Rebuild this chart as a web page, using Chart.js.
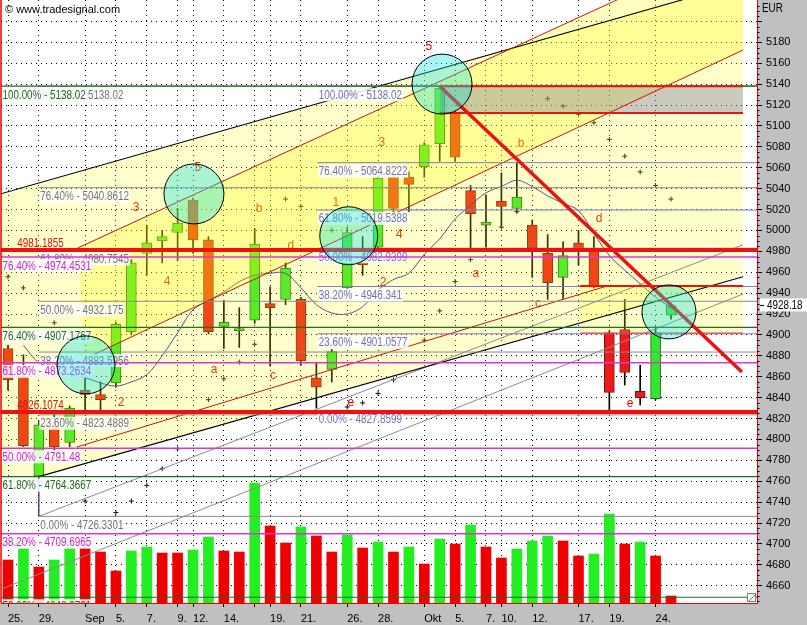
<!DOCTYPE html>
<html><head><meta charset="utf-8"><title>DAX</title>
<script src="https://cdn.jsdelivr.net/npm/chart.js@4.4.1/dist/chart.umd.min.js"></script>
<style>html,body{margin:0;padding:0;background:#fff;overflow:hidden}canvas{display:block}</style>
</head><body>
<canvas id="c" width="807" height="625" style="width:807px;height:625px"></canvas>
<script>
// ---------------- data ----------------
const dates = ['25.08.','26.08.','29.08.','30.08.','31.08.','01.09.','02.09.','05.09.','06.09.','07.09.','08.09.','09.09.','12.09.','13.09.','14.09.','15.09.','16.09.','19.09.','20.09.','21.09.','22.09.','23.09.','26.09.','27.09.','28.09.','29.09.','30.09.','03.10.','04.10.','05.10.','06.10.','07.10.','10.10.','11.10.','12.10.','13.10.','14.10.','17.10.','18.10.','19.10.','20.10.','21.10.','24.10.','25.10.'];
const tickIdx  = [0,2,5,7,9,11,12,14,16,17,19,22,24,27,29,31,32,34,37,39,42];
const tickText = ['25.','29.','Sep','5.','7.','9.','12.','14.','','19.','21.','26.','28.','Okt','5.','7.','10.','12.','17.','19.','24.'];
const yTicks = [4660,4680,4700,4720,4740,4760,4780,4800,4820,4840,4860,4880,4900,4920,4940,4960,4980,5000,5020,5040,5060,5080,5100,5120,5140,5160,5180,5200];

const open  = [4887,4860,4765,4812,4797,4847,4843,4854,4903,4978,4990,4998,5029,4991,4908,4904,4914,4930,4934,4934,4859,4867,4945,4970,4984,5051,5051,5061,5083,5112,5038,5005,5028,5021,5005,4978,4955,4988,4982,4902,4905,4846,4839,4919];
const high  = [4890,4881,4818,4826,4832,4860,4855,4912,4972,5005,5000,5021,5031,4994,4933,4926,5002,4946,4969,4936,4873,4886,5003,4994,5052,5053,5056,5084,5138.02,5114,5043,5034,5055,5065,5010,4996,4989,5000,4994,4904,4934,4871,4908,4930];
const low   = [4847,4793,4764.37,4790,4793,4826,4826,4850,4900,4957,4969,4971,4978,4901,4887,4888,4911,4870,4929,4871,4830,4855,4940,4957,4982,5012,5018,5051,5066,5066,4983,4984,5003,5017,4955,4934,4935,4967,4945,4827.86,4852,4833,4838,4915];
const close = [4857,4794,4814,4793,4830,4843,4838,4910,4969,4988,4994,5007,4991,4903,4912,4906,4987,4926,4964,4875,4850,4884,4998,4967,5050,5021,5044,5082,5136,5070,5016,5008,5023,5032,4983,4950,4976,4980,4946,4845,4864,4840,4902,4928.18];
const volume = [43,55,36,43,55,55,51,32,52,56,50,50,53,66,52,51,120,77,60,76,67,51,68,55,61,51,56,39,64,59,78,56,45,54,62,67,62,47,49,89,59,61,47,7];
const volDir = [-1,1,-1,1,1,-1,-1,-1,1,1,-1,-1,1,1,-1,-1,1,-1,-1,1,-1,-1,1,-1,1,-1,1,-1,1,-1,1,-1,-1,1,1,1,-1,-1,1,1,-1,1,-1,-1];
const ma  = [null,4890,4873,4866,4862,4859,4854,4851,4855,4862,4880,4902,4924,4933,4941,4951,4957,4959,4959,4945,4929,4921,4920,4927,4943,4953,4959,4977,4992,5011,5024,5036,5042,5048,5042,5033,5026,5019,4997,4976,4962,4949,4936,4926];
const sar = [4955.6,4945,null,4911.6,null,4741,null,4730,4741,4756,4772,4791,null,4838,4858,4874,4891,null,5030,5023,null,5000,4831,4835,4844,4857,null,4895,4923,4951,4972,null,5003,5018,null,5126,5119,5111,5103,5087,5071,5056,5043,5030];
const lastPrice = 4928.18;

// Fibonacci sets (value, percent)
const fibGray = [4726.3301,4823.4889,4883.5956,4932.175,4980.7545,5040.8612,5138.02];
const fibGrayPct = [0,23.6,38.2,50,61.8,76.4,100];
const fibBlue = [4827.8599,4901.0577,4946.341,4982.9399,5019.5388,5064.8222,5138.02];
const fibBluePct = [0,23.6,38.2,50,61.8,76.4,100];
const fibGreen = [4648.9701,4764.3667,4907.1767,5138.02];
const fibGreenPct = [50,61.8,76.4,100];
const fibMagenta = [4709.6965,4791.48,4873.2634,4974.4531];
const fibMagentaPct = [38.2,50,61.8,76.4];
const redLevels = [4981.1855,4826.1074];
const fibStart = {gray:2, blue:20.06, green:-0.5, magenta:-0.5, red:-0.5};

// drawing-object anchors (bar index, price)
const lineA  = [[-0.46,5035.1],[47.67,5237.2]];
const lineE  = [[2,4764.37],[47.67,4955.7]];
const lineB  = [[4.5,4983],[47.67,5276.1]];
const lineC  = [[5,4877.3],[47.67,5172.6]];
const lineD  = [[4.47,4792.7],[38.85,4946.8]];
const lineG1 = [[2,4726.33],[47.67,4986.2]];
const lineG2 = [[-0.46,4656.6],[47.67,4939.1]];
const lineV  = [[2,4764.37],[2,4726.33]];
const downLine = [[28,5138.02],[47.6,4864.5]];
const paleFill = [[-0.46,5035.1],[47.67,5237.2],[47.67,4955.7],[2,4764.37],[-0.46,4764.37]];
const brightFill = [[4.5,4983],[47.67,5276.1],[47.67,5172.6],[5,4877.3]];
const zoneHigh = [[28,5138.02],[47.67,5112.3]];
const zoneLow  = [[37.1,4946.8],[47.67,4901.8]];
const circles = [[28.15,5140],[12.06,5034.9],[5.06,4871.3],[22.1,4994.9],[42.87,4922]];
const waveLabels = [['5',27.3,5175.5],['5',12.32,5059.8],['3',8.3,5021.5],['b',16.28,5020.5],['4',10.31,4950.7],['a',13.36,4866.5],['c',17.19,4860.7],['2',7.33,4834.9],['1',21.27,5026.3],['3',24.25,5083.7],['4',25.36,4995.7],['2',24.32,4949.8],['d',18.35,4985.2],['b',33.27,5082.7],['a',30.35,4958.3],['c',34.37,4929.6],['d',38.33,5010.9],['e',22.24,4834.9],['e',40.34,4834.0]];

// ---------------- styles ----------------
const SANS = "'Liberation Sans',Arial,sans-serif";
const NARROW_SCALE = 0.82;
const circleR = [30,30,29,29,27];
const UP = '#30e830', UPB = '#1a601a', DN = '#ee1a1a', DNB = '#701010';

const fmt = v => String(Number(v.toFixed(4)));
const idx = dates.map((d,i)=>i);

// narrow text helper (Arial-Narrow-like: 82% horizontal scale)
function nText(c, txt, x, y){ c.save(); c.translate(x,y); c.scale(NARROW_SCALE,1); c.fillText(txt,0,0); c.restore(); }
function nWidth(c, txt){ return c.measureText(txt).width*NARROW_SCALE; }

const drawings = {
  id:'drawings',
  beforeDraw(ch){
    const c=ch.ctx,a=ch.chartArea;
    c.save();
    c.fillStyle='#ffffff';c.fillRect(0,0,ch.width,ch.height);
    c.fillStyle='#c0c0c0';
    c.fillRect(a.right,0,ch.width-a.right,ch.height);
    c.fillRect(0,a.bottom,ch.width,ch.height-a.bottom);
    c.restore();
  },
  afterDatasetsDraw(ch){
    const c=ch.ctx,a=ch.chartArea,X=ch.scales.x,Y=ch.scales.y;
    const P=(i,v)=>[X.getPixelForValue(i),Y.getPixelForValue(v)];
    const poly=(pts,fill)=>{c.beginPath();pts.forEach((p,k)=>{const [x,y]=P(p[0],p[1]);k?c.lineTo(x,y):c.moveTo(x,y);});c.closePath();c.fillStyle=fill;c.fill();};
    const seg=(pts,col,w)=>{c.beginPath();const [x0,y0]=P(pts[0][0],pts[0][1]);const [x1,y1]=P(pts[1][0],pts[1][1]);c.moveTo(x0,y0);c.lineTo(x1,y1);c.strokeStyle=col;c.lineWidth=w;c.stroke();};
    const rect=(r,fill)=>{const [x0,y0]=P(r[0][0],r[0][1]);const [x1,y1]=P(r[1][0],r[1][1]);c.fillStyle=fill;c.fillRect(x0,y0,x1-x0,y1-y0);};
    const hline=(v,ix,col,w,xr)=>{const y=Y.getPixelForValue(v);c.beginPath();c.moveTo(X.getPixelForValue(ix),y);c.lineTo(xr===undefined?a.right:X.getPixelForValue(xr),y);c.strokeStyle=col;c.lineWidth=w;c.stroke();};
    c.save();
    c.beginPath();c.rect(a.left,a.top,a.right-a.left,a.bottom-a.top);c.clip();
    // wave labels (under the translucent fills)
    c.font='12px '+SANS;c.textAlign='center';c.textBaseline='middle';c.fillStyle='#ee0000';
    waveLabels.forEach(([t,i,v])=>{const [x,y]=P(i,v);c.fillText(t,x,y);});
    // translucent channel fills
    poly(paleFill,'rgba(255,255,0,0.2)');
    poly(brightFill,'rgba(255,255,0,0.26)');
    rect(zoneLow,'rgba(255,255,0,0.2)');
    rect(zoneHigh,'rgba(95,95,160,0.33)');
    // trend lines
    seg(lineG1,'#8c8c8c',1);seg(lineG2,'#8c8c8c',1);
    seg(lineA,'#000',1.1);seg(lineE,'#000',1.1);
    seg(lineB,'#d01010',1);seg(lineC,'#d01010',1);seg(lineD,'#d01010',1);
    seg(lineV,'#1c1c80',1.2);
    // fib sets
    c.font='12px '+SANS;c.textAlign='left';c.textBaseline='alphabetic';
    const fibSet=(vals,pcts,ix,lc,tc,lw)=>{
      vals.forEach(v=>hline(v,ix,lc,lw));
      const x0=Math.max(X.getPixelForValue(ix),a.left)+1.5;
      vals.forEach((v,k)=>{
        const y=Y.getPixelForValue(v);
        const txt=pcts[k].toFixed(2)+'% - '+fmt(v);
        const w=nWidth(c,txt);
        c.fillStyle='rgba(255,255,255,0.85)';c.fillRect(x0-1,y+2,w+2,13);
        c.fillStyle=tc;nText(c,txt,x0,y+12.5);
      });
    };
    fibSet(fibGray,fibGrayPct,fibStart.gray,'#8a8a8a','#747474',1);
    fibSet(fibBlue,fibBluePct,fibStart.blue,'#7c7cc8','#7070c0',1);
    fibSet(fibGreen,fibGreenPct,fibStart.green,'#1f6e1f','#1d6a1d',1.2);
    fibSet(fibMagenta,fibMagentaPct,fibStart.magenta,'#dd33dd','#d020d0',1.5);
    // zone borders
    hline(zoneHigh[0][1],zoneHigh[0][0],'#ee1111',2,zoneHigh[1][0]);
    hline(zoneHigh[1][1],zoneHigh[0][0],'#ee1111',2,zoneHigh[1][0]);
    hline(zoneLow[0][1],zoneLow[0][0],'#ee1111',2,zoneLow[1][0]);
    hline(zoneLow[1][1],zoneLow[0][0],'#ee3333',1,zoneLow[1][0]);
    // red support/resistance lines
    redLevels.forEach(v=>hline(v,fibStart.red,'#ee1111',4));
    c.fillStyle='#dd1111';
    const xr=X.getPixelForValue(0.6);
    redLevels.forEach(v=>{const y=Y.getPixelForValue(v);nText(c,fmt(v),xr,y-3);});
    // heavy down trend line
    seg(downLine,'#ee1111',3.5);
    // circles
    circles.forEach(([i,v],k)=>{const [x,y]=P(i,v);c.beginPath();c.arc(x,y,circleR[k],0,Math.PI*2);c.fillStyle='rgba(20,225,225,0.36)';c.fill();c.strokeStyle='#000';c.lineWidth=1;c.stroke();});
    c.restore();
    // left border
    c.save();c.strokeStyle='#ee0000';c.lineWidth=1.5;c.beginPath();c.moveTo(a.left,a.top);c.lineTo(a.left,a.bottom);c.stroke();c.restore();
  },
  afterDraw(ch){
    const c=ch.ctx,a=ch.chartArea,Y=ch.scales.y;
    c.save();
    // minor ticks on the price axis
    c.strokeStyle='#000';c.lineWidth=1;
    for(let v=Math.ceil(Y.min/5)*5;v<=Y.max;v+=5){ if(v%20===0) continue; const y=Math.round(Y.getPixelForValue(v))+0.5; c.beginPath();c.moveTo(a.right,y);c.lineTo(a.right+2.5,y);c.stroke(); }
    // last price marker
    const yp=Y.getPixelForValue(lastPrice);
    c.fillStyle='#ffffff';c.fillRect(a.right+3,yp-7,ch.width-a.right-3,13);
    c.beginPath();c.moveTo(a.right+3,yp);c.lineTo(a.right+7,yp);c.stroke();
    c.font='12px '+SANS;c.fillStyle='#000';c.textBaseline='middle';c.textAlign='left';
    nText(c,lastPrice.toFixed(2),a.right+10,yp+0.5);
    nText(c,'EUR',a.right+5,9);
    c.font='11px '+SANS;
    c.fillText('\u00A9 www.tradesignal.com',5,10);
    // size grip in the plot corner
    c.fillStyle='#f4f4f4';c.fillRect(a.right-10,a.bottom-10,9,9);
    c.strokeStyle='#808080';c.strokeRect(a.right-9.5,a.bottom-9.5,8,8);
    c.beginPath();c.moveTo(a.right-8,a.bottom-2);c.lineTo(a.right-2,a.bottom-8);c.stroke();
    c.restore();
  }
};

Chart.defaults.font.family = SANS;
Chart.defaults.font.size = 11;
Chart.defaults.color = '#000';

new Chart(document.getElementById('c'), {
  data:{
    datasets:[
      {type:'line',label:'SAR',order:1,data:idx.map(i=>({x:i,y:sar[i]})),showLine:false,pointStyle:'cross',pointRadius:2.5,borderColor:'#111',borderWidth:1},
      {type:'line',label:'MA',order:2,data:idx.map(i=>({x:i,y:ma[i]})),borderColor:'#2a2aa8',borderWidth:1,pointRadius:0,tension:0.35,spanGaps:true},
      {type:'bar',label:'Body',order:3,grouped:false,barThickness:10,borderSkipped:false,borderWidth:1,
        data:idx.map(i=>({x:i,y:[open[i],close[i]]})),
        backgroundColor:ctx=>close[ctx.dataIndex]>=open[ctx.dataIndex]?UP:DN,
        borderColor:ctx=>close[ctx.dataIndex]>=open[ctx.dataIndex]?UPB:DNB},
      {type:'bar',label:'Wick',order:4,grouped:false,barThickness:1,borderWidth:0,
        data:idx.map(i=>({x:i,y:[low[i],high[i]]})),backgroundColor:'#000'},
      {type:'bar',label:'Volume',order:5,grouped:false,barThickness:10,borderWidth:0,yAxisID:'y2',
        data:idx.map(i=>({x:i,y:volume[i]})),
        backgroundColor:ctx=>volDir[ctx.dataIndex]>0?'#22ee22':'#ee0000'}
    ]
  },
  options:{
    responsive:false,animation:false,devicePixelRatio:1,events:[],
    layout:{padding:{left:1,top:0,right:0,bottom:0},autoPadding:false},
    plugins:{legend:{display:false},tooltip:{enabled:false}},
    scales:{
      x:{type:'linear',position:'bottom',min:-0.454,max:48.577,offset:false,
        afterBuildTicks:s=>{s.ticks=tickIdx.map(v=>({value:v}));},
        afterFit:s=>{s.height=22;s.paddingLeft=0;s.paddingRight=0;},
        ticks:{autoSkip:false,maxRotation:0,align:'start',padding:5,color:'#000',font:{size:11,family:SANS},
          callback:v=>{const k=tickIdx.indexOf(v);return k<0?'':tickText[k];}},
        grid:{offset:false,color:'#000',lineWidth:1,tickLength:4,tickColor:'#000'},
        border:{color:'#ee0000',width:1,dash:[1,4]}},
      y:{type:'linear',position:'right',min:4643.45,max:5220.48,beginAtZero:false,
        afterBuildTicks:s=>{s.ticks=yTicks.map(v=>({value:v}));},
        afterFit:s=>{s.width=50;s.paddingTop=0;s.paddingBottom=0;},
        ticks:{padding:4,color:'#000',font:{size:11,family:SANS},callback:v=>v===5200?'':String(v)},
        grid:{color:'#000',lineWidth:1,tickLength:5,tickColor:'#000'},
        border:{color:'#ee0000',width:1,dash:[1,4]}},
      y2:{type:'linear',display:false,min:0,max:603}
    }
  },
  plugins:[drawings]
});
</script>
</body></html>
